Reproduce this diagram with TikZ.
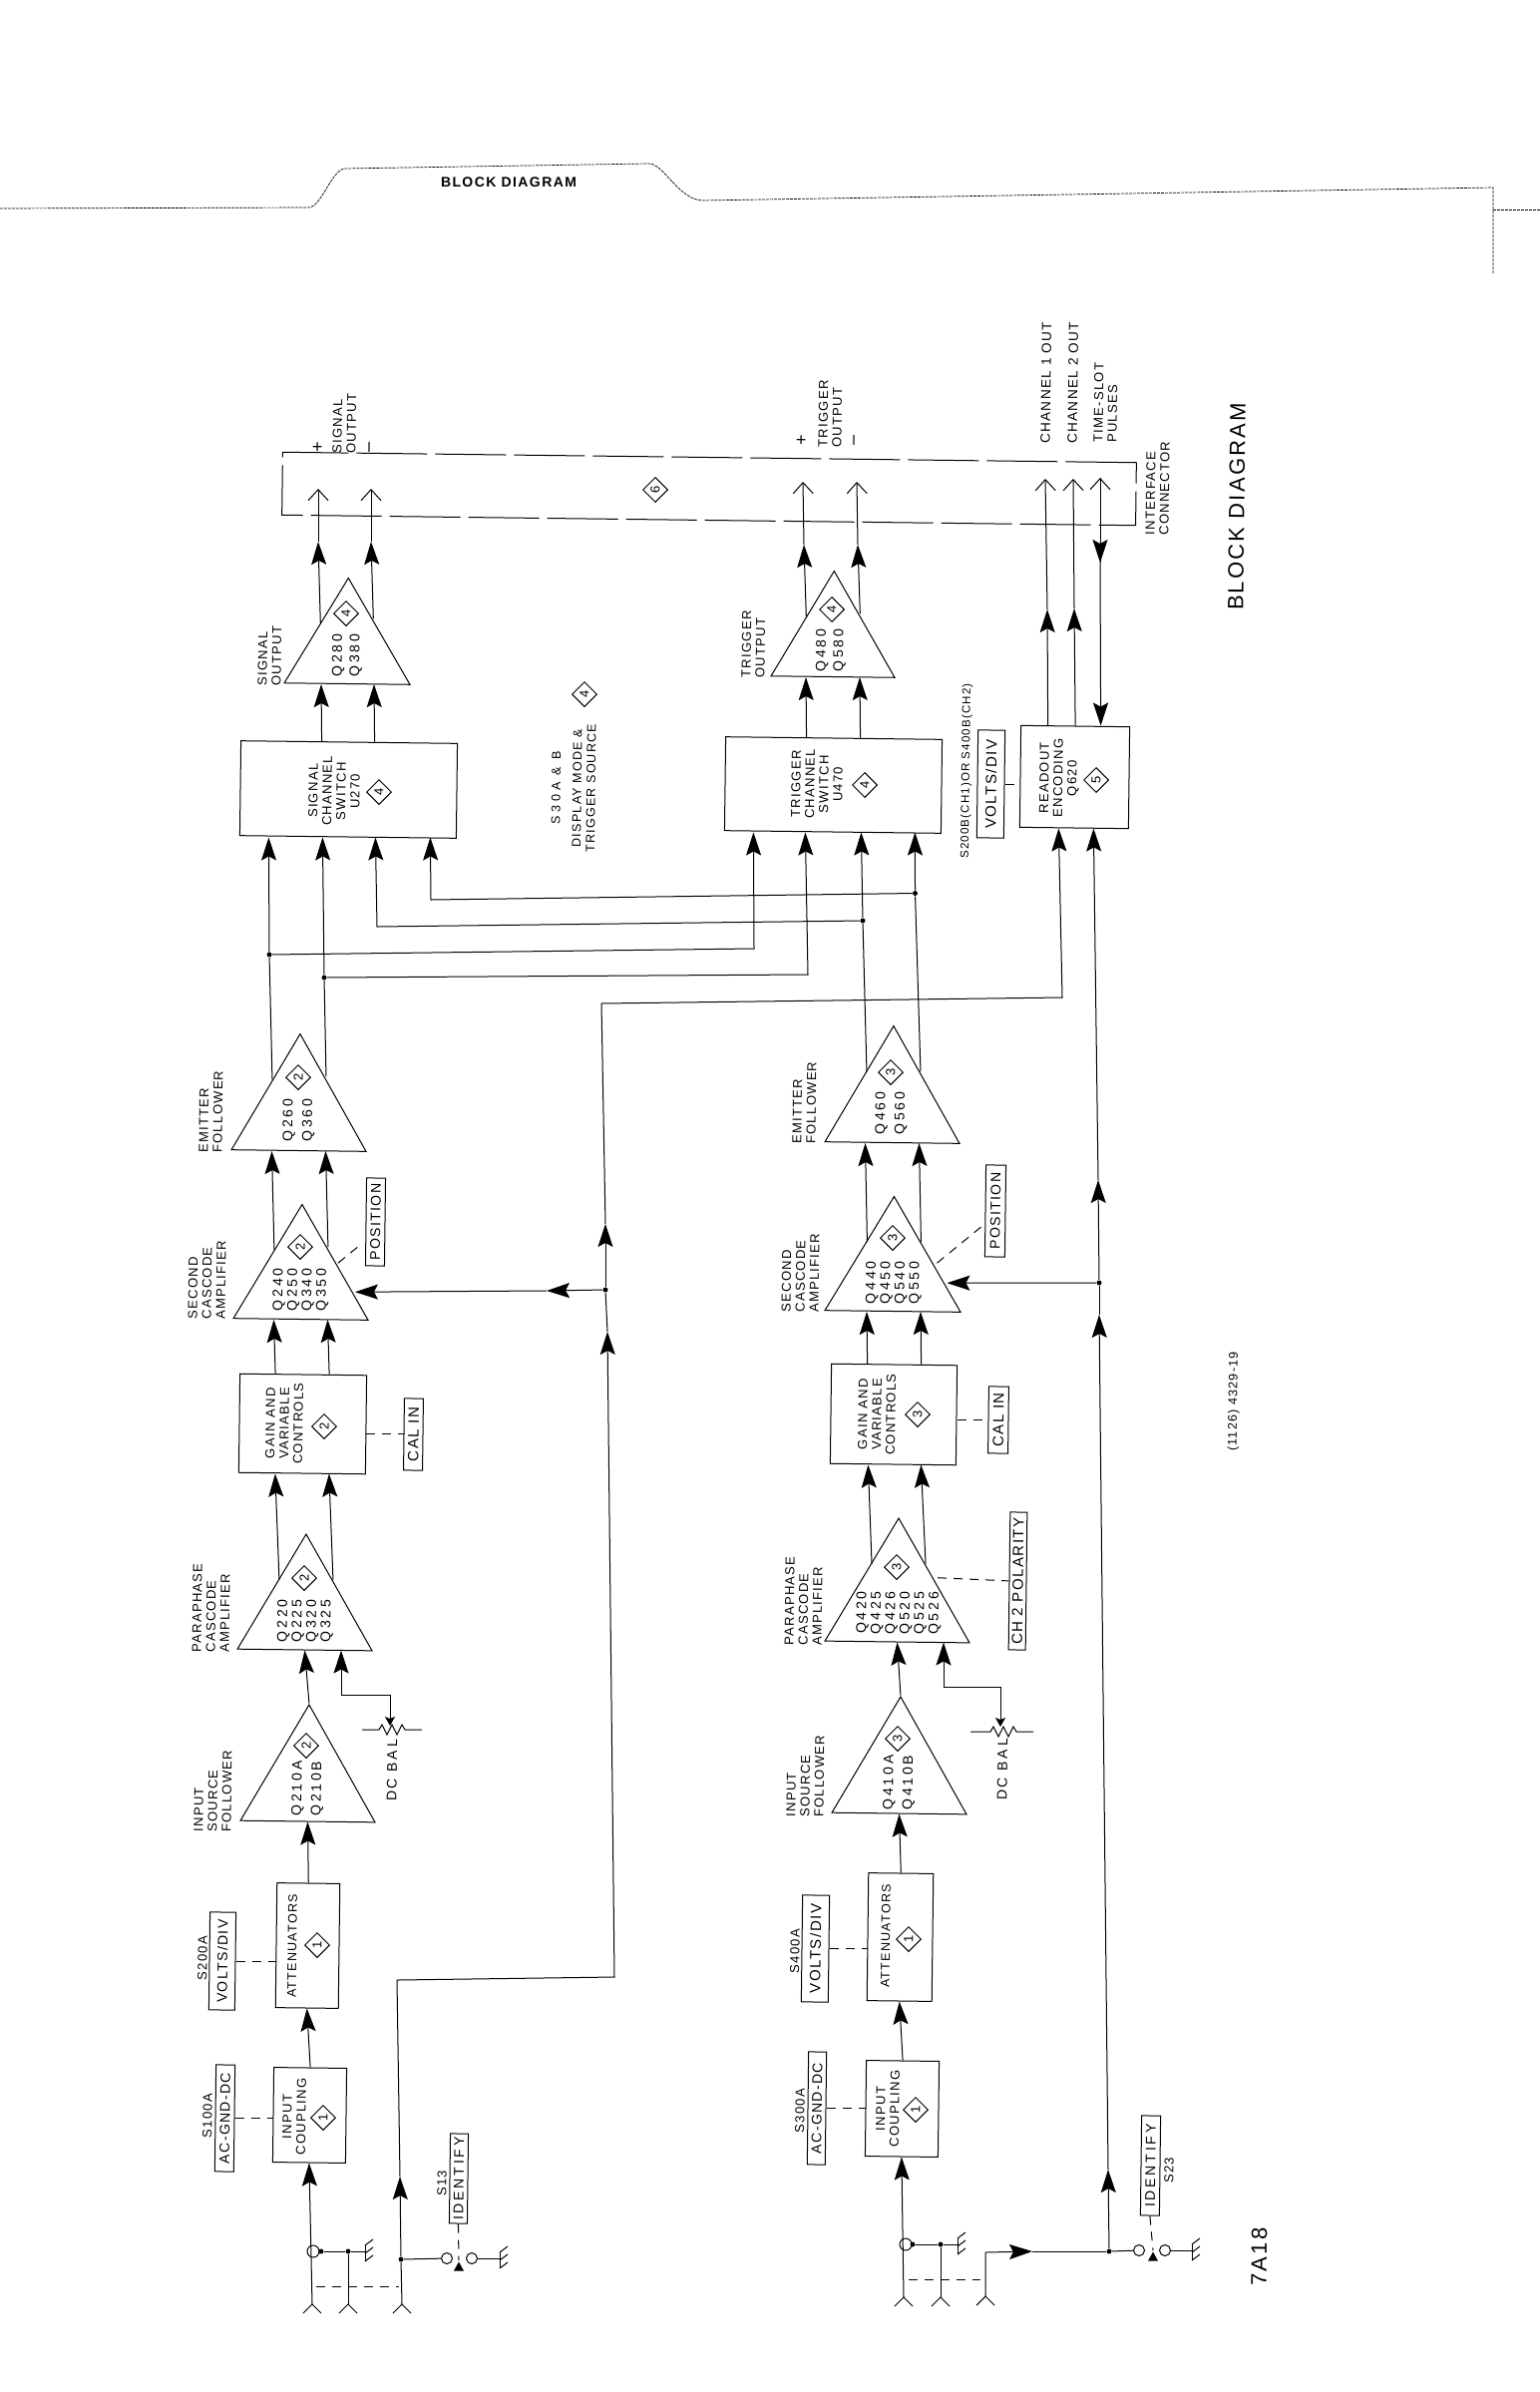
\documentclass[tikz,border=0pt]{standalone}
\usepackage{fontspec}
\setmainfont{Liberation Sans}[LetterSpace=10]
\usetikzlibrary{arrows.meta,shapes.geometric}

\tikzset{
    sketch/.style={x=1pt, y=-1pt, line width=1pt},
    amp/.style={draw, isosceles triangle, isosceles triangle stretches, shape border rotate=90,
        rotate=-0.7, anchor=lower side, inner sep=0, minimum width=135, minimum height=117},
    blockbox/.style={draw, rectangle, rotate=-0.7, inner sep=0},
    ctlbox/.style={draw, rectangle, rotate=89.3, inner sep=0, font=\fontsize{14}{16}\selectfont},
    widefont/.style={font=\fontsize{14}{14.5}\selectfont\addfontfeature{LetterSpace=20}},
    lbl/.style={rotate=89.3, inner sep=0, align=center, font=\fontsize{13}{14}\selectfont},
    leftlbl/.style={lbl, align=left, anchor=west},
    tinylbl/.style={lbl, font=\fontsize{11.5}{13}\selectfont},
    signlbl/.style={lbl, font=\fontsize{18}{18}\selectfont},
    dmd/.style={draw, diamond, rotate=90, inner sep=0, minimum size=25, font=\fontsize{13}{13}\selectfont},
    jdot/.style={circle, fill, inner sep=0, minimum size=5},
    term/.style={circle, draw, inner sep=0, minimum size=11},
    swtri/.style={isosceles triangle, isosceles triangle stretches, shape border rotate=90, fill,
        anchor=lower side, inner sep=0, minimum width=10, minimum height=9},
    flow/.style={-{Stealth[length=23pt,width=15pt,inset=4pt]}},
    openend/.style={-{Straight Barb[length=11pt,width=20pt]}},
    wiper/.style={{Stealth[length=9pt,width=10pt,inset=2pt]}-{Stealth[length=23pt,width=15pt,inset=4pt]}},
    ctl/.style={dash pattern=on 9pt off 7pt},
    iface/.style={draw, rectangle, rotate=-0.7, dash pattern=on 71pt off 8pt, inner sep=0}
}

\begin{document}
\begin{tikzpicture}[sketch]
    \useasboundingbox (0,0) rectangle (1544,2398);

    % File tab
    \draw[line width=0.7pt, dash pattern=on 3pt off 1pt] (0,209) -- (310,208) .. controls (322,207) and (332,172) .. (345,169)
        -- (650,164) .. controls (665,163) and (680,200) .. (704,201) -- (1497,188) -- (1497,275);
    \draw[line width=0.7pt, dash pattern=on 3pt off 1pt] (1497,210) -- (1544,210);
    \node[inner sep=0, font=\fontsize{14}{16}\selectfont\bfseries] (tabtitle) at (510,183) {BLOCK DIAGRAM};

    % Interface connector
    \node[iface, minimum width=856, minimum height=63] (ifbox) at (711,490) {};
    \node[dmd] (ifdmd) at (657,491) {6};
    \node[signlbl] (plusS) at (319,448) {+};
    \node[leftlbl] (outS) at (345,455) {SIGNAL\\OUTPUT};
    \node[signlbl] (minusS) at (372,448) {--};
    \node[signlbl] (plusT) at (804,441) {+};
    \node[leftlbl] (outT) at (832,449) {TRIGGER\\OUTPUT};
    \node[signlbl] (minusT) at (858,441) {--};
    \node[leftlbl, font=\fontsize{13.5}{15}\selectfont] (ch1out) at (1048,445) {CHANNEL 1 OUT};
    \node[leftlbl, font=\fontsize{13.5}{15}\selectfont] (ch2out) at (1075,445) {CHANNEL 2 OUT};
    \node[leftlbl] (tsout) at (1108,444) {TIME-SLOT\\PULSES};
    \node[leftlbl] (iflbl) at (1160,537) {INTERFACE\\CONNECTOR};
    \node[lbl, font=\fontsize{22}{24}\selectfont] (title) at (1240,508) {BLOCK DIAGRAM};
    \node[lbl, font=\fontsize{12.5}{14}\selectfont] (partno) at (1237,1405) {(1126) 4329-19};
    \node[leftlbl, font=\fontsize{22}{24}\selectfont] (model) at (1262,2292) {7A18};

    % Output stages
    \node[amp, minimum width=126, minimum height=106] (qsig) at (348,686) {};
    \node[lbl, widefont] (qsigtxt) at (348,657) {Q280\\[3pt]Q380};
    \node[dmd] (qsigdmd) at (347,615) {4};
    \node[leftlbl] (qsiglbl) at (270,688) {SIGNAL\\OUTPUT};
    \node[amp, minimum width=124, minimum height=106] (qtrig) at (835,679) {};
    \node[lbl, widefont] (qtrigtxt) at (833,652) {Q480\\[3pt]Q580};
    \node[dmd] (qtrigdmd) at (834,611) {4};
    \node[leftlbl] (qtriglbl) at (755,680) {TRIGGER\\OUTPUT};

    % Channel switches
    \node[blockbox, minimum width=217, minimum height=95] (sigsw) at (349.5,791.5) {};
    \node[lbl] (sigswtxt) at (335,793) {SIGNAL\\CHANNEL\\SWITCH\\U270};
    \node[dmd] (sigswdmd) at (380,794) {4};
    \node[blockbox, minimum width=217, minimum height=94] (trigsw) at (835.5,787) {};
    \node[lbl] (trigswtxt) at (819,786) {TRIGGER\\CHANNEL\\SWITCH\\U470};
    \node[dmd] (trigswdmd) at (867,787) {4};
    \node[lbl, font=\fontsize{12.5}{14}\selectfont] (modetxt) at (575,790) {{\addfontfeature{LetterSpace=30}S30A \& B}\\[7pt]DISPLAY MODE \&\\TRIGGER SOURCE};
    \node[dmd] (modedmd) at (586,696) {4};

    % Readout
    \node[blockbox, minimum width=109, minimum height=102] (readout) at (1077.5,779) {};
    \node[lbl] (readtxt) at (1062,780) {READOUT\\ENCODING\\Q620};
    \node[dmd] (readdmd) at (1099,782) {5};
    \node[ctlbox, minimum width=108, minimum height=27, font=\fontsize{15}{16}\selectfont] (voltsC) at (993.5,786) {VOLTS/DIV};
    \node[tinylbl] (voltsClbl) at (969,773) {S200B(CH1)OR S400B(CH2)};
    \draw[ctl] (voltsC.south) -- (voltsC.south -| readout.west);

    % Channel 1 amplifier
    \node[amp] (qemA) at (299.5,1154) {};
    \node[lbl, widefont] (qemAtxt) at (299.5,1123) {Q260\\[5pt]Q360};
    \node[dmd] (qemAdmd) at (299,1080) {2};
    \node[leftlbl] (qemAlbl) at (211,1156) {EMITTER\\FOLLOWER};
    \node[amp, minimum height=115] (qcasA) at (301.5,1323) {};
    \node[lbl, widefont] (qcasAtxt) at (301.5,1293) {Q240\\Q250\\Q340\\Q350};
    \node[dmd] (qcasAdmd) at (301,1250) {2};
    \node[leftlbl] (qcasAlbl) at (207,1323) {SECOND\\CASCODE\\AMPLIFIER};
    \node[ctlbox, minimum width=88, minimum height=19] (posA) at (376.5,1225) {POSITION};
    \node[blockbox, minimum width=127, minimum height=99] (gainA) at (303.5,1427.5) {};
    \node[lbl] (gainAtxt) at (285,1427) {GAIN AND\\VARIABLE\\CONTROLS};
    \node[dmd] (gainAdmd) at (325,1430) {2};
    \node[ctlbox, minimum width=72, minimum height=19, font=\fontsize{15}{16}\selectfont] (calA) at (414.5,1438) {CAL IN};
    \node[amp, minimum height=116] (qparA) at (305.5,1654.5) {};
    \node[lbl, widefont] (qparAtxt) at (306,1625) {Q220\\Q225\\Q320\\Q325};
    \node[dmd] (qparAdmd) at (305,1582) {2};
    \node[leftlbl] (qparAlbl) at (211,1657) {PARAPHASE\\CASCODE\\AMPLIFIER};
    \node[amp] (qinA) at (308.5,1826.5) {};
    \node[lbl, widefont] (qinAtxt) at (308.5,1793) {Q210A\\[5pt]Q210B};
    \node[dmd] (qinAdmd) at (307,1750) {2};
    \node[leftlbl] (qinAlbl) at (213,1837) {INPUT\\SOURCE\\FOLLOWER};
    \node[lbl, widefont] (dcbalA) at (393,1775) {DC BAL};
    \node[blockbox, minimum width=63, minimum height=125] (attA) at (308.5,1950.5) {};
    \node[lbl, font=\fontsize{12.5}{14}\selectfont] (attAtxt) at (293,1951) {ATTENUATORS};
    \node[dmd] (attAdmd) at (318,1950) {1};
    \node[ctlbox, minimum width=98, minimum height=26] (voltsA) at (223,1966) {VOLTS/DIV};
    \node[lbl] (voltsAlbl) at (203,1963) {S200A};
    \node[blockbox, minimum width=73, minimum height=95] (incplA) at (310.5,2120.5) {};
    \node[lbl] (incplAtxt) at (295,2122) {INPUT\\COUPLING};
    \node[dmd] (incplAdmd) at (324,2123) {1};
    \node[ctlbox, minimum width=107, minimum height=19] (acA) at (225.5,2123.5) {AC-GND-DC};
    \node[lbl] (acAlbl) at (208,2121) {S100A};
    \node[ctlbox, widefont, minimum width=90, minimum height=18] (idA) at (460,2184) {IDENTIFY};
    \node[lbl] (idAlbl) at (443,2189) {S13};

    % Channel 2 amplifier
    \node[amp] (qemB) at (894.5,1146) {};
    \node[lbl, widefont] (qemBtxt) at (893.5,1116) {Q460\\[5pt]Q560};
    \node[dmd] (qemBdmd) at (893,1075) {3};
    \node[leftlbl] (qemBlbl) at (806,1147) {EMITTER\\FOLLOWER};
    \node[amp, minimum width=136, minimum height=115] (qcasB) at (895,1315) {};
    \node[lbl, widefont] (qcasBtxt) at (896,1286) {Q440\\Q450\\Q540\\Q550};
    \node[dmd] (qcasBdmd) at (895,1241) {3};
    \node[leftlbl] (qcasBlbl) at (802,1316) {SECOND\\CASCODE\\AMPLIFIER};
    \node[ctlbox, minimum width=92, minimum height=20] (posB) at (998,1214) {POSITION};
    \node[blockbox, minimum width=126, minimum height=100] (gainB) at (896,1418) {};
    \node[lbl] (gainBtxt) at (879,1418) {GAIN AND\\VARIABLE\\CONTROLS};
    \node[dmd] (gainBdmd) at (920,1418) {3};
    \node[ctlbox, minimum width=67, minimum height=20, font=\fontsize{15}{16}\selectfont] (calB) at (1001,1423.5) {CAL IN};
    \node[amp, minimum width=145, minimum height=124] (qparB) at (899.5,1646.5) {};
    \node[lbl, widefont] (qparBtxt) at (901,1617) {Q420\\Q425\\Q426\\Q520\\Q525\\Q526};
    \node[dmd] (qparBdmd) at (899,1571) {3};
    \node[leftlbl] (qparBlbl) at (805,1650) {PARAPHASE\\CASCODE\\AMPLIFIER};
    \node[ctlbox, minimum width=138, minimum height=17, font=\fontsize{15}{16}\selectfont] (polB) at (1020.5,1585) {CH 2 POLARITY};
    \node[amp] (qinB) at (901.5,1818.5) {};
    \node[lbl, widefont] (qinBtxt) at (901.5,1787) {Q410A\\[5pt]Q410B};
    \node[dmd] (qinBdmd) at (900,1743) {3};
    \node[leftlbl] (qinBlbl) at (807,1822) {INPUT\\SOURCE\\FOLLOWER};
    \node[lbl, widefont] (dcbalB) at (1005,1774) {DC BAL};
    \node[blockbox, minimum width=65, minimum height=128] (attB) at (902.5,1942) {};
    \node[lbl, font=\fontsize{12.5}{14}\selectfont] (attBtxt) at (888,1941) {ATTENUATORS};
    \node[dmd] (attBdmd) at (911,1944) {1};
    \node[ctlbox, minimum width=107, minimum height=27, font=\fontsize{15}{16}\selectfont] (voltsB) at (817.5,1953.5) {VOLTS/DIV};
    \node[lbl] (voltsBlbl) at (797,1956) {S400A};
    \node[blockbox, minimum width=73, minimum height=96] (incplB) at (904.5,2114) {};
    \node[lbl] (incplBtxt) at (890,2114) {INPUT\\COUPLING};
    \node[dmd] (incplBdmd) at (918,2115) {1};
    \node[ctlbox, minimum width=113, minimum height=18] (acB) at (819,2113.5) {AC-GND-DC};
    \node[lbl] (acBlbl) at (802,2116) {S300A};
    \node[ctlbox, widefont, minimum width=100, minimum height=19] (idB) at (1153.5,2171) {IDENTIFY};
    \node[lbl] (idBlbl) at (1172,2176) {S23};

    % Junction dots, terminals and free ends
    \node[jdot] (dotS1) at (270,957) {};
    \node[jdot] (dotS2) at (325,980) {};
    \node[jdot] (dotT1) at (865,923) {};
    \node[jdot] (dotT2) at (917.5,895.5) {};
    \node[jdot] (dotA3) at (402,2265) {};
    \node[jdot] (dotA4) at (607,1293) {};
    \node[jdot] (dotB3) at (1112,2257) {};
    \node[jdot] (dotB4) at (1102,1286) {};
    \node[jdot] (tdotA) at (322,2257) {};
    \node[jdot] (jA2) at (349,2257) {};
    \node[jdot] (tdotB) at (915,2250) {};
    \node[jdot] (jB2) at (943,2250) {};
    \node[term, minimum size=12] (termA) at (314,2257) {};
    \node[term, minimum size=12] (termB) at (908,2250) {};
    \node[term] (swA1) at (448,2264) {};
    \node[term] (swA2) at (473,2264) {};
    \node[term] (swB1) at (1142,2256) {};
    \node[term] (swB2) at (1168,2256) {};
    \node[swtri] (swtriA) at (460,2277) {};
    \node[swtri] (swtriB) at (1156,2267) {};
    \coordinate (inA1) at (313,2310);
    \coordinate (inA2) at (349,2310);
    \coordinate (inA3) at (403,2310);
    \coordinate (inB1) at (906,2303);
    \coordinate (inB2) at (943,2303);
    \coordinate (inB3) at (988,2302);
    \coordinate (gndA1) at (366,2257);
    \coordinate (gndA2) at (501,2264);
    \coordinate (gndB1) at (960,2250);
    \coordinate (gndB2) at (1195,2256);
    \coordinate (gangA1) at (317,2292);
    \coordinate (gangA2) at (400,2292);
    \coordinate (gangB1) at (911,2285);
    \coordinate (gangB2) at (983,2285);

    % Input jacks and ground marks
    \foreach \p in {inA1,inA2,inA3,inB1,inB2,inB3} {
        \draw (\p) ++(-9,9) -- (\p) -- ++(9,9);
    }
    \foreach \p in {gndA1,gndA2,gndB1,gndB2} {
        \draw (\p) ++(0,-6) -- ++(0,16);
        \foreach \d in {-6,2,10} {
            \draw (\p) ++(0,\d) -- ++(8,-6);
        }
    }

    % Outputs to the interface connector
    \coordinate (hdS1) at (319,543);
    \coordinate (hdS2) at (372,543);
    \coordinate (endS1) at (319,490);
    \coordinate (endS2) at (372,490);
    \draw[flow] ([shift={(-28,47)}]qsig.apex) -- (hdS1);
    \draw[flow] ([shift={(25,42)}]qsig.apex) -- (hdS2);
    \draw[openend] (hdS1) -- (endS1);
    \draw[openend] (hdS2) -- (endS2);
    \coordinate (hdT1) at (806,546);
    \coordinate (hdT2) at (860,546);
    \coordinate (endT1) at (805,483);
    \coordinate (endT2) at (859,483);
    \draw[flow] ([shift={(-28,47)}]qtrig.apex) -- (hdT1);
    \draw[flow] ([shift={(26,44)}]qtrig.apex) -- (hdT2);
    \draw[openend] (hdT1) -- (endT1);
    \draw[openend] (hdT2) -- (endT2);
    \coordinate (hdC1) at (1050,611);
    \coordinate (hdC2) at (1077,610);
    \coordinate (hdC3) at (1103,564);
    \coordinate (endC1) at (1048,480);
    \coordinate (endC2) at (1076,480);
    \coordinate (endC3) at (1103,479);
    \draw[flow] ([xshift=-27.5]readout.north) -- (hdC1);
    \draw[flow] ([xshift=0]readout.north) -- (hdC2);
    \draw[openend] (hdC1) -- (endC1);
    \draw[openend] (hdC2) -- (endC2);
    \draw[openend] (hdC3) -- (endC3);
    \draw[flow] (endC3) -- (hdC3);
    \draw[flow] (hdC3) -- ([xshift=25.5]readout.north);

    % Switches to output stages
    \draw[flow] ([xshift=-27.5]sigsw.north) -- ([xshift=-26]qsig.lower side);
    \draw[flow] ([xshift=25.5]sigsw.north) -- ([xshift=27]qsig.lower side);
    \draw[flow] ([xshift=-27.5]trigsw.north) -- ([xshift=-27]qtrig.lower side);
    \draw[flow] ([xshift=26.5]trigsw.north) -- ([xshift=27]qtrig.lower side);

    % Channel 1 signal path
    \draw[flow] (inA1) -- (incplA.south);
    \draw[flow] (incplA.north) -- (attA.south);
    \draw[flow] (attA.north) -- (qinA.lower side);
    \draw[flow] (qinA.apex) -- (qparA.lower side);
    \draw[flow] ([shift={(-27,47)}]qparA.apex) -- ([xshift=-27]gainA.south);
    \draw[flow] ([shift={(27,47)}]qparA.apex) -- ([xshift=27]gainA.south);
    \draw[flow] ([xshift=-28]gainA.north) -- ([xshift=-27]qcasA.lower side);
    \draw[flow] ([xshift=26]gainA.north) -- ([xshift=27]qcasA.lower side);
    \draw[flow] ([shift={(-28,47)}]qcasA.apex) -- ([xshift=-27]qemA.lower side);
    \draw[flow] ([shift={(26,44)}]qcasA.apex) -- ([xshift=27]qemA.lower side);
    \draw ([shift={(-28,47)}]qemA.apex) -- (dotS1);
    \draw ([shift={(26,44)}]qemA.apex) -- (dotS2);
    \draw[flow] (dotS1) -- ([xshift=-79.5]sigsw.south);
    \draw[flow] (dotS2) -- ([xshift=-25.5]sigsw.south);

    % Channel 2 signal path
    \draw[flow] (inB1) -- (incplB.south);
    \draw[flow] (incplB.north) -- (attB.south);
    \draw[flow] (attB.north) -- (qinB.lower side);
    \draw[flow] (qinB.apex) -- (qparB.lower side);
    \draw[flow] ([shift={(-27,47)}]qparB.apex) -- ([xshift=-25]gainB.south);
    \draw[flow] ([shift={(27,47)}]qparB.apex) -- ([xshift=28]gainB.south);
    \draw[flow] ([xshift=-27]gainB.north) -- ([xshift=-26]qcasB.lower side);
    \draw[flow] ([xshift=27]gainB.north) -- ([xshift=28]qcasB.lower side);
    \draw[flow] ([shift={(-27,47)}]qcasB.apex) -- ([xshift=-27]qemB.lower side);
    \draw[flow] ([shift={(27,47)}]qcasB.apex) -- ([xshift=27]qemB.lower side);
    \draw ([shift={(-27,47)}]qemB.apex) -- (dotT1);
    \draw ([shift={(27,47)}]qemB.apex) -- (dotT2);
    \draw[flow] (dotT1) -- ([xshift=28.5]trigsw.south);
    \draw[flow] (dotT2) -- ([xshift=82.5]trigsw.south);

    % Cross feeds between the switches
    \coordinate (bendT1) at (756,951);
    \coordinate (bendT2) at (810,977);
    \coordinate (bendS1) at (378,929);
    \coordinate (bendS2) at (432,902);
    \draw[flow] (dotS1) -- (bendT1) -- ([xshift=-79.5]trigsw.south);
    \draw[flow] (dotS2) -- (bendT2) -- ([xshift=-27.5]trigsw.south);
    \draw[flow] (dotT1) -- (bendS1) -- ([xshift=27.5]sigsw.south);
    \draw[flow] (dotT2) -- (bendS2) -- ([xshift=82.5]sigsw.south);

    % Identify line, channel 1
    \coordinate (hdA1) at (401,2182);
    \coordinate (hdA2) at (609,1335);
    \coordinate (hdA3) at (607,1227);
    \coordinate (hdA4) at (548,1294);
    \coordinate (bendA1) at (398,1985);
    \coordinate (bendA2) at (616,1982);
    \coordinate (bendA3) at (603,1006);
    \coordinate (bendA4) at (1065,1000);
    \draw (inA3) -- (dotA3);
    \draw[flow] (dotA3) -- (hdA1);
    \draw[flow] (hdA1) -- (bendA1) -- (bendA2) -- (hdA2);
    \draw (hdA2) -- (dotA4);
    \draw[flow] (dotA4) -- (hdA3);
    \draw[flow] (hdA3) -- (bendA3) -- (bendA4) -- ([xshift=-15.5]readout.south);
    \draw[flow] (dotA4) -- (hdA4);
    \draw[flow] (hdA4) -- ([shift={(53,89)}]qcasA.apex);

    % Identify line, channel 2
    \coordinate (bendB1) at (988,2258);
    \coordinate (hdB1) at (1035,2257);
    \coordinate (hdB2) at (1111,2175);
    \coordinate (hdB3) at (1102,1318);
    \coordinate (hdB4) at (1101,1183);
    \draw[flow] (inB3) -- (bendB1) -- (hdB1);
    \draw (hdB1) -- (dotB3);
    \draw[flow] (dotB3) -- (hdB2);
    \draw[flow] (hdB2) -- (hdB3);
    \draw (hdB3) -- (dotB4);
    \draw[flow] (dotB4) -- (hdB4);
    \draw[flow] (hdB4) -- ([xshift=19.5]readout.south);
    \draw[flow] (dotB4) -- ([shift={(53,88)}]qcasB.apex);

    % DC balance controls
    \coordinate (resA) at (363,1734);
    \coordinate (resB) at (973,1736);
    \coordinate (wipA) at (391,1730);
    \coordinate (wipB) at (1003,1731);
    \coordinate (bendA5) at (342,1699);
    \coordinate (bendB5) at (946,1691);
    \draw (resA) -- ++(17,0) -- ++(3,-5) -- ++(5,10) -- ++(5,-10) -- ++(5,10) -- ++(5,-10) -- ++(3,5) -- ++(17,0);
    \draw (resB) -- ++(20,0) -- ++(3,-5) -- ++(5,10) -- ++(5,-10) -- ++(5,10) -- ++(5,-10) -- ++(3,5) -- ++(17,0);
    \draw[wiper] (wipA) |- (bendA5) -- ([xshift=36.5]qparA.lower side);
    \draw[wiper] (wipB) |- (bendB5) -- ([xshift=46.5]qparB.lower side);

    % Front panel controls
    \draw[ctl] (voltsA.south) -- (voltsA.south -| attA.west);
    \draw[ctl] (acA.south) -- (acA.south -| incplA.west);
    \draw[ctl] (voltsB.south) -- (voltsB.south -| attB.west);
    \draw[ctl] (acB.south) -- (acB.south -| incplB.west);
    \draw[ctl] (calA.north -| gainA.east) -- (calA.north);
    \draw[ctl] (calB.north -| gainB.east) -- (calB.north);
    \draw[ctl] ([shift={(36,60)}]qcasA.apex) -- ([shift={(-4,22)}]posA.north);
    \draw[ctl] ([shift={(43,68)}]qcasB.apex) -- ([shift={(0,13)}]posB.north);
    \draw[ctl] ([shift={(39,61)}]qparB.apex) -- (polB.north);

    % Inputs, ground and identify switches
    \draw (tdotA) -- (jA2) -- (gndA1);
    \draw (inA2) -- (jA2);
    \draw (tdotB) -- (jB2) -- (gndB1);
    \draw (inB2) -- (jB2);
    \draw (dotA3) -- (swA1);
    \draw (swA2) -- (gndA2);
    \draw (dotB3) -- (swB1);
    \draw (swB2) -- (gndB2);
    \draw[ctl] (gangA1) -- (gangA2);
    \draw[ctl] (gangB1) -- (gangB2);
    \draw[ctl] (idA.west) -- (swtriA.apex);
    \draw[ctl] (idB.west) -- (swtriB.apex);
\end{tikzpicture}
\end{document}
